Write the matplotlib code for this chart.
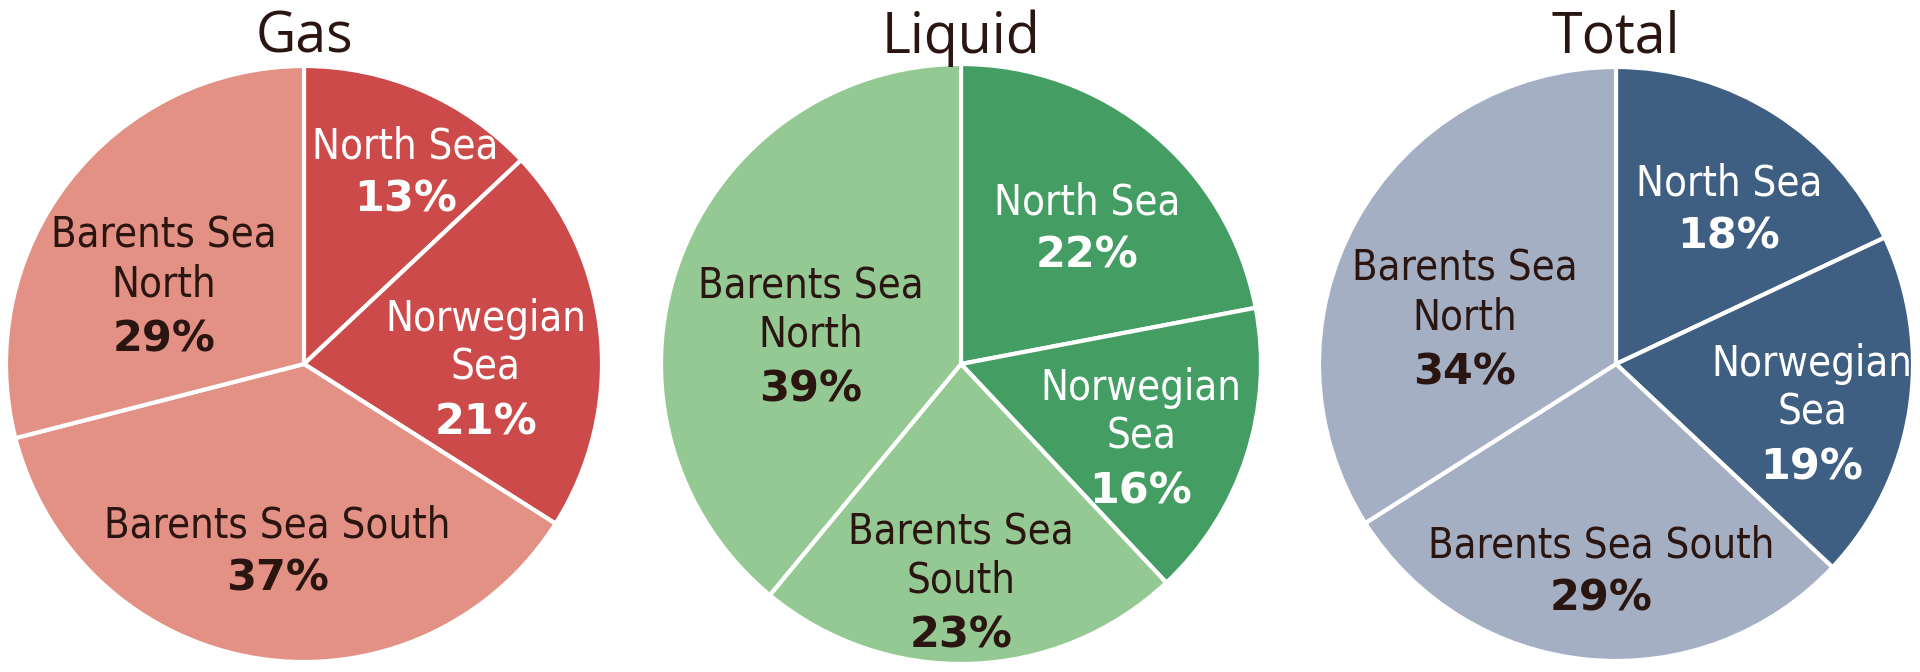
import matplotlib.pyplot as plt

# data
regions = ['North Sea', 'Norwegian Sea', 'Barents Sea South', 'Barents Sea North']
gas = [13, 21, 37, 29]
liquid = [22, 16, 23, 39]
total = [18, 19, 29, 34]
titles = ['Gas', 'Liquid', 'Total']

# label text per wedge (line breaks as in the reference)
gas_labels = ['North Sea', 'Norwegian\nSea', 'Barents Sea South', 'Barents Sea\nNorth']
liquid_labels = ['North Sea', 'Norwegian\nSea', 'Barents Sea\nSouth', 'Barents Sea\nNorth']
total_labels = ['North Sea', 'Norwegian\nSea', 'Barents Sea South', 'Barents Sea\nNorth']

dark_brown = '#2a1510'
palettes = [
    ['#cd4a4a', '#cd4a4a', '#e39185', '#e39185'],
    ['#449e63', '#449e63', '#94c994', '#94c994'],
    ['#3f5f82', '#3f5f82', '#a5afc4', '#a5afc4'],
]
text_cols = ['white', 'white', dark_brown, dark_brown]

# layout (pixel space)
centers = [(304, 308), (961, 308), (1616, 308)]
radii = [298, 300, 297]
# label block centres as fraction of radius
label_pos = [
    [(0.34, 0.64), (0.61, -0.02), (-0.09, -0.63), (-0.47, 0.26)],
    [(0.42, 0.45), (0.60, -0.25), (0.0, -0.73), (-0.50, 0.09)],
    [(0.38, 0.52), (0.66, -0.17), (-0.05, -0.70), (-0.51, 0.15)],
]

fig = plt.figure(figsize=(19.2, 6.72), dpi=100)
ax = fig.add_axes([0, 0, 1, 1])
ax.set_xlim(0, 1920)
ax.set_ylim(0, 672)
ax.set_aspect('equal')
ax.axis('off')

all_vals = [gas, liquid, total]
all_labels = [gas_labels, liquid_labels, total_labels]

for i in range(3):
    cx, cy = centers[i]
    r = radii[i]
    ax.pie(all_vals[i], colors=palettes[i], startangle=90, counterclock=False,
           center=(cx, cy), radius=r, frame=True,
           wedgeprops=dict(edgecolor='white', linewidth=3))
    ax.text(cx, 634, titles[i], ha='center', va='center', fontsize=40,
            family='Open Sans', color=dark_brown)
    for j in range(4):
        fx, fy = label_pos[i][j]
        x = cx + fx * r
        y = cy + fy * r
        name = all_labels[i][j]
        nlines = name.count('\n') + 1
        lh = 53  # line height in px
        top = y + (nlines + 1) * lh / 2
        ax.text(x, top - lh * nlines / 2, name, ha='center', va='center',
                fontsize=30, family='DejaVu Sans', fontstretch='condensed',
                color=text_cols[j], linespacing=1.2)
        ax.text(x, top - lh * nlines - lh / 2, f'{all_vals[i][j]}%', ha='center',
                va='center', fontsize=31, fontweight='bold', family='DejaVu Sans',
                fontstretch='normal', color=text_cols[j])

ax.set_xlim(0, 1920)
ax.set_ylim(0, 672)
fig.savefig('out.png', dpi=100, facecolor='white')
